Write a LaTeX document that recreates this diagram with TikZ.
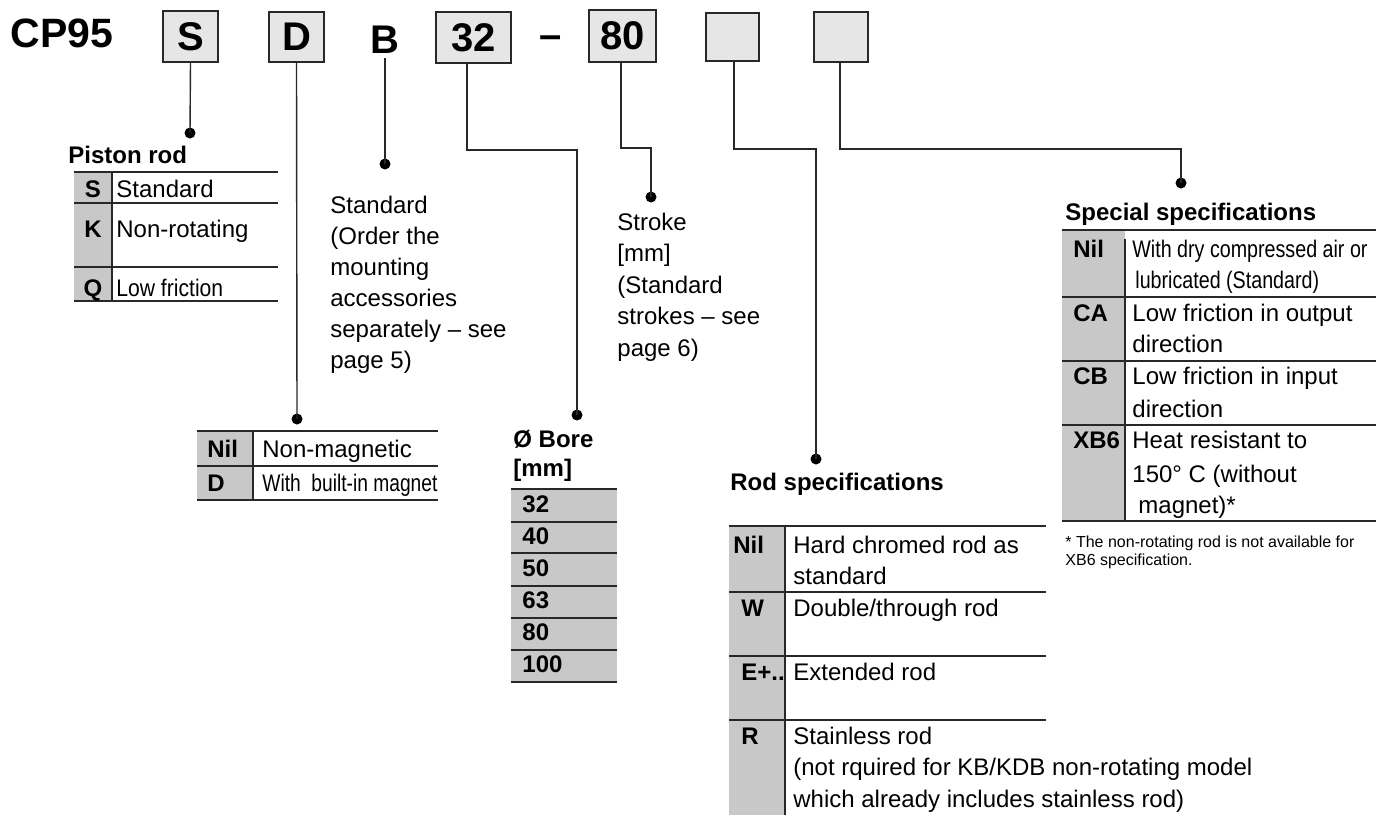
\documentclass[tikz,border=0pt]{standalone}
\usepackage{fontspec}
\setmainfont{Liberation Sans}
\usepackage{graphicx}
\usetikzlibrary{calc}
\definecolor{boxfill}{RGB}{230,230,230}
\definecolor{colfill}{RGB}{200,200,200}
\definecolor{ln}{RGB}{40,40,40}
\newcommand{\narrowtxt}[2][0.82]{\scalebox{#1}[1]{#2}}
\begin{document}
\begin{tikzpicture}[x=0.5pt,y=-0.5pt,
  t/.style={inner sep=0,anchor=base west,font=\fontsize{12}{14}\selectfont},
  tb/.style={inner sep=0,anchor=base west,font=\fontsize{12}{14}\selectfont\bfseries},
  tbc/.style={inner sep=0,anchor=base,font=\fontsize{12}{14}\selectfont\bfseries},
  fn/.style={inner sep=0,anchor=base west,font=\fontsize{8}{9}\selectfont},
  big/.style={inner sep=0,font=\fontsize{20}{24}\selectfont\bfseries},
  codebox/.style={draw=ln,line width=0.8pt,fill=boxfill,inner sep=0,font=\fontsize{20}{24}\selectfont\bfseries},
  conn/.style={draw=ln,line width=0.7pt},
  tl/.style={draw=ln,line width=0.6pt},
  dot/.style={circle,fill=black,inner sep=0,minimum size=5.5pt}
]
\useasboundingbox (0,0) rectangle (1376,815);

% ---------- top code row ----------
\node[big,anchor=base west,font=\fontsize{20.5}{24}\selectfont\bfseries] (cp) at (10,47) {CP95};
\node[codebox,minimum width=27.5pt,minimum height=25.5pt] (bS) at (190.5,36.5) {S};
\node[codebox,minimum width=27.5pt,minimum height=25pt] (bD) at (296.5,37) {D};
\node[big,anchor=base] (bB) at (385,53) {B};
\node[codebox,minimum width=37.5pt,minimum height=25.5pt] (b32) at (473.5,37.5) {32};
\node[big,anchor=base] (dash) at (551,48) {–};
\node[codebox,minimum width=33.5pt,minimum height=26pt] (b80) at (622.5,36) {80};
\node[codebox,minimum width=26.5pt,minimum height=24pt] (b5) at (732.5,37) {};
\node[codebox,minimum width=27pt,minimum height=25pt] (b6) at (841,37) {};

% ---------- dots ----------
\node[dot] (dS) at (190,133) {};
\node[dot] (dD) at (297,419) {};
\node[dot] (dB) at (385,164) {};
\node[dot] (d32) at (577,415) {};
\node[dot] (d80) at (651,197) {};
\node[dot] (d5) at (816,459) {};
\node[dot] (d6) at (1181,183) {};
\coordinate (e32) at (577,150);
\coordinate (e80) at (651,148);
\coordinate (e5) at (816,149);
\coordinate (e6) at (1181,149);

% ---------- connectors ----------
\draw[conn] (bS.south) -- (dS.center);
\draw[conn] (bD.south) -- (dD.center);
\draw[conn] (bB.south |- 0,58) -- (dB.center);
\draw[conn] ($(b32.south)+(-6.5,0)$) |- (e32) -- (d32.center);
\draw[conn] ($(b80.south)+(-1.5,0)$) |- (e80) -- (d80.center);
\draw[conn] ($(b5.south)+(1.5,0)$) |- (e5) -- (d5.center);
\draw[conn] ($(b6.south)+(-1,0)$) |- (e6) -- (d6.center);

% ---------- Piston rod ----------
\node[tb] (prT) at (68,163) {Piston rod};
\fill[colfill] (74,172) rectangle (112,301);
\draw[tl] (74,172) -- (278,172) (74,203) -- (278,203) (74,267) -- (278,267) (74,301) -- (278,301) (112,172) -- (112,301);
\node[tbc] (prS) at (93,197) {S};
\node[tbc] (prK) at (93,237) {K};
\node[tbc] (prQ) at (93,296) {Q};
\node[t] (prS2) at (116,197) {Standard};
\node[t] (prK2) at (116,237) {Non-rotating};
\node[t] (prQ2) at (116,296) {\narrowtxt[0.88]{Low friction}};

% ---------- Magnet ----------
\fill[colfill] (197,431) rectangle (253,500);
\draw[tl] (197,431) -- (438,431) (197,466) -- (438,466) (197,500) -- (438,500) (253,431) -- (253,500);
\node[tb] (mN) at (207,457) {Nil};
\node[tb] (mD) at (207,491) {D};
\node[t] (mN2) at (262,457) {Non-magnetic};
\node[t] (mD2) at (262,491) {\narrowtxt[0.80]{With\ \ built-in magnet}};

% ---------- Mounting ----------
\node[t] (m1) at (330,213) {Standard};
\node[t] (m2) at (330,244) {(Order the};
\node[t] (m3) at (330,275) {mounting};
\node[t] (m4) at (330,306) {accessories};
\node[t] (m5) at (330,337) {separately – see};
\node[t] (m6) at (330,368) {page 5)};

% ---------- Stroke ----------
\node[t] (s1) at (617,230) {Stroke};
\node[t] (s2) at (617,261) {[mm]};
\node[t] (s3) at (617,293) {(Standard};
\node[t] (s4) at (617,324) {strokes – see};
\node[t] (s5) at (617,356) {page 6)};

% ---------- Bore ----------
\node[tb] (bo1) at (513,447) {Ø Bore};
\node[tb] (bo2) at (513,476) {[mm]};
\fill[colfill] (511,489) rectangle (617,682);
\draw[tl] (511,489) -- (617,489) (511,522) -- (617,522) (511,553) -- (617,553) (511,586) -- (617,586)
  (511,618) -- (617,618) (511,650) -- (617,650) (511,682) -- (617,682);
\node[tb] (bo32) at (522,512) {32};
\node[tb] (bo40) at (522,544) {40};
\node[tb] (bo50) at (522,576) {50};
\node[tb] (bo63) at (522,608) {63};
\node[tb] (bo80) at (522,640) {80};
\node[tb] (bo100) at (522,672) {100};

% ---------- Rod specifications ----------
\node[tb] (rsT) at (730,490) {Rod specifications};
\fill[colfill] (729,526) rectangle (785,815);
\draw[tl] (729,526) -- (1046,526) (729,592) -- (1046,592) (729,656) -- (1046,656) (729,720) -- (1046,720) (785,526) -- (785,815);
\node[tb] (rsN) at (733,553) {Nil};
\node[t] (rsN2) at (793,553) {Hard chromed rod as};
\node[t] (rsN3) at (793,584) {standard};
\node[tb] (rsW) at (741,616) {W};
\node[t] (rsW2) at (793,616) {Double/through rod};
\node[tb] (rsE) at (741,680) {E+..};
\node[t] (rsE2) at (793,680) {Extended rod};
\node[tb] (rsR) at (741,744) {R};
\node[t] (rsR2) at (793,744) {Stainless rod};
\node[t] (rsR3) at (793,775) {(not rquired for KB/KDB non-rotating model};
\node[t] (rsR4) at (793,807) {which already includes stainless rod)};

% ---------- Special specifications ----------
\node[tb] (ssT) at (1065,220) {Special specifications};
\fill[colfill] (1062,230) rectangle (1125,521);
\draw[tl] (1062,230) -- (1376,230) (1062,297) -- (1376,297) (1062,361) -- (1376,361) (1062,425) -- (1376,425) (1062,521) -- (1376,521) (1125,239) -- (1125,521);
\node[tb] (ssN) at (1073,257) {Nil};
\node[t] (ssN2) at (1132,257) {\narrowtxt{With dry compressed air or}};
\node[t] (ssN3) at (1135,288) {\narrowtxt{lubricated (Standard)}};
\node[tb] (ssA) at (1073,321) {CA};
\node[t] (ssA2) at (1132,321) {Low friction in output};
\node[t] (ssA3) at (1132,352) {direction};
\node[tb] (ssB) at (1073,384) {CB};
\node[t] (ssB2) at (1132,384) {Low friction in input};
\node[t] (ssB3) at (1132,417) {direction};
\node[tb] (ssX) at (1073,448) {XB6};
\node[t] (ssX2) at (1132,448) {Heat resistant to};
\node[t] (ssX3) at (1132,482) {150° C (without};
\node[t] (ssX4) at (1138,513) {magnet)*};
\node[fn] (fn1) at (1065,547) {* The non-rotating rod is not available for};
\node[fn] (fn2) at (1065,565) {XB6 specification.};
\end{tikzpicture}
\end{document}
